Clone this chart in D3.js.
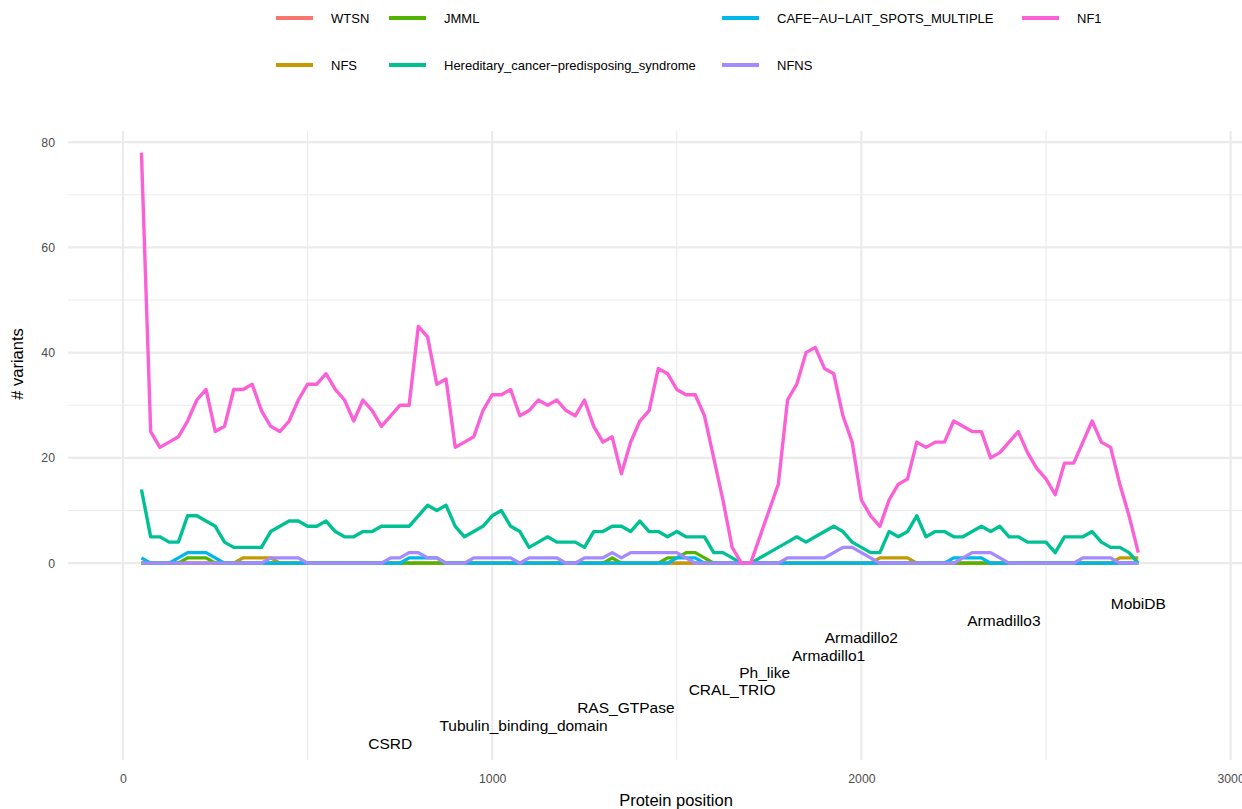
<!DOCTYPE html>
<html>
<head>
<meta charset="utf-8">
<script src="https://cdn.jsdelivr.net/npm/d3@7"></script>
<style>
  html, body { margin: 0; padding: 0; background: #fff; }
  svg { display: block; font-family: "Liberation Sans", Arial, sans-serif; }
</style>
</head>
<body>
<svg id="chart" width="1242" height="809"></svg>
<script>
// Variant counts per 25-residue window along the NF1 protein.
const positionStart = 50, positionStep = 25;

const seriesNames = ["WTSN", "NFS", "JMML", "Hereditary_cancer\u2212predisposing_syndrome",
                     "CAFE\u2212AU\u2212LAIT_SPOTS_MULTIPLE", "NFNS", "NF1"];
const seriesColors = ["#F8766D", "#C49A00", "#53B400", "#00C094", "#00B6EB", "#A58AFF", "#FB61D7"];

const wtsn = [
  0,0,0,0,0,0,0,0,0,0, 0,0,0,0,0,0,0,0,0,0, 0,0,0,0,0,0,0,0,0,0,
  0,0,0,0,0,0,0,0,0,0, 0,0,0,0,0,0,0,0,0,0, 0,0,0,0,0,0,0,0,0,0,
  0,0,0,0,0,0,0,0,0,0, 0,0,0,0,0,0,0,0,0,0, 0,0,0,0,0,0,0,0,0,0,
  0,0,0,0,0,0,0,0,0,0, 0,0,0,0,0,0,0,0,0];
const nfs = [
  0,0,0,0,0,0,0,0,0,0, 0,1,1,1,1,0,0,0,0,0, 0,0,0,0,0,0,0,0,0,0,
  0,0,0,0,0,0,0,0,0,0, 0,0,0,0,0,0,0,0,0,0, 0,0,0,0,0,0,0,0,0,0,
  0,0,0,0,0,0,0,0,0,0, 0,0,0,0,0,0,0,0,0,0, 1,1,1,1,0,0,0,0,0,0,
  0,0,0,0,0,0,0,0,0,0, 0,0,0,0,0,0,1,1,1];
const jmml = [
  0,0,0,0,0,1,1,1,0,0, 0,0,0,0,0,0,0,0,0,0, 0,0,0,0,0,0,0,0,0,0,
  0,0,0,0,0,0,0,0,0,0, 0,0,0,0,0,0,0,0,0,0, 0,1,0,0,0,0,0,1,1,2,
  2,1,0,0,0,0,0,0,0,0, 0,0,0,0,0,0,0,0,0,0, 0,0,0,0,0,0,0,0,0,0,
  0,0,0,0,0,0,0,0,0,0, 0,0,0,0,0,0,0,0,0];
const hereditary = [
  14,5,5,4,4,9,9,8,7,4, 3,3,3,3,6,7,8,8,7,7, 8,6,5,5,6,6,7,7,7,7,
  9,11,10,11,7,5,6,7,9,10, 7,6,3,4,5,4,4,4,3,6, 6,7,7,6,8,6,6,5,6,5,
  5,5,2,2,1,0,0,1,2,3, 4,5,4,5,6,7,6,4,3,2, 2,6,5,6,9,5,6,6,5,5,
  6,7,6,7,5,5,4,4,4,2, 5,5,5,6,4,3,3,2,0];
const cafe = [
  1,0,0,0,1,2,2,2,1,0, 0,0,0,0,0,0,0,0,0,0, 0,0,0,0,0,0,0,0,0,1,
  1,1,1,0,0,0,0,0,0,0, 0,0,0,0,0,0,0,0,0,0, 0,0,0,0,0,0,0,0,1,1,
  1,0,0,0,0,0,0,0,0,0, 0,0,0,0,0,0,0,0,0,0, 0,0,0,0,0,0,0,0,1,1,
  1,1,0,0,0,0,0,0,0,0, 0,0,0,0,0,0,0,0,0];
const nfns = [
  0,0,0,0,0,0,0,0,0,0, 0,0,0,0,1,1,1,1,0,0, 0,0,0,0,0,0,0,1,1,2,
  2,1,1,0,0,0,1,1,1,1, 1,0,1,1,1,1,0,0,1,1, 1,2,1,2,2,2,2,2,2,1,
  0,0,0,0,0,0,0,0,0,0, 1,1,1,1,1,2,3,3,2,1, 0,0,0,0,0,0,0,0,0,1,
  2,2,2,1,0,0,0,0,0,0, 0,0,1,1,1,1,0,0,0];
const nf1 = [
  78,25,22,23,24,27,31,33,25,26, 33,33,34,29,26,25,27,31,34,34,
  36,33,31,27,31,29,26,28,30,30, 45,43,34,35,22,23,24,29,32,32,
  33,28,29,31,30,31,29,28,31,26, 23,24,17,23,27,29,37,36,33,32,
  32,28,20,12,3,0,0,5,10,15, 31,34,40,41,37,36,28,23,12,9,
  7,12,15,16,23,22,23,23,27,26, 25,25,20,21,23,25,21,18,16,13,
  19,19,23,27,23,22,15,9,2];

// Protein domain annotations: label, centre position, vertical placement
const domainLabels = ["MobiDB", "Armadillo3", "Armadillo2", "Armadillo1", "Ph_like",
                      "CRAL_TRIO", "RAS_GTPase", "Tubulin_binding_domain", "CSRD"];
const domainPositions = [2750, 2386, 2000, 1911, 1738, 1650, 1362, 1085, 724];
const domainLevels = [-7.6, -10.9, -14.1, -17.5, -20.8, -24.1, -27.4, -30.8, -34.3];

const xTicks = [0, 1000, 2000, 3000];
const xMinor = [500, 1500, 2500];
const yTicks = [0, 20, 40, 60, 80];
const yMinor = [10, 30, 50, 70];

const seriesValues = [wtsn, nfs, jmml, hereditary, cafe, nfns, nf1];
const series = seriesNames.map((name, k) => ({
  name, color: seriesColors[k],
  points: seriesValues[k].map((v, i) => ({ pos: positionStart + i * positionStep, v }))
}));

const svg = d3.select("#chart");
const panel = { left: 68, right: 1242, top: 131, bottom: 760 };

const x = d3.scaleLinear().domain([-143.5, 3016]).range([70, 1236.5]);
const y = d3.scaleLinear().domain([-37.4, 82.3]).range([760, 130]);

const grid = svg.append("g");
grid.selectAll("line.ymin").data(yMinor).join("line")
  .attr("x1", panel.left).attr("x2", panel.right)
  .attr("y1", d => y(d)).attr("y2", d => y(d))
  .attr("stroke", "#EBEBEB").attr("stroke-width", 1.1);
grid.selectAll("line.xmin").data(xMinor).join("line")
  .attr("y1", panel.top).attr("y2", panel.bottom)
  .attr("x1", d => x(d)).attr("x2", d => x(d))
  .attr("stroke", "#EBEBEB").attr("stroke-width", 1.1);
grid.selectAll("line.ymaj").data(yTicks).join("line")
  .attr("x1", panel.left).attr("x2", panel.right)
  .attr("y1", d => y(d)).attr("y2", d => y(d))
  .attr("stroke", "#EBEBEB").attr("stroke-width", 2.2);
grid.selectAll("line.xmaj").data(xTicks).join("line")
  .attr("y1", panel.top).attr("y2", panel.bottom)
  .attr("x1", d => x(d)).attr("x2", d => x(d))
  .attr("stroke", "#EBEBEB").attr("stroke-width", 2.2);

// Axes: labels only, no axis lines or tick marks
const yAxis = svg.append("g").attr("transform", `translate(${panel.left - 4},0)`)
  .call(d3.axisLeft(y).tickValues(yTicks).tickFormat(d3.format("d")).tickSize(0).tickPadding(9));
const xAxis = svg.append("g").attr("transform", `translate(0,${panel.bottom + 6})`)
  .call(d3.axisBottom(x).tickValues(xTicks).tickFormat(d3.format("d")).tickSize(0).tickPadding(8));
[yAxis, xAxis].forEach(a => {
  a.select(".domain").remove();
  a.selectAll("text").attr("fill", "#4D4D4D").attr("font-size", 12.3)
    .attr("font-family", "'Liberation Sans', Arial, sans-serif");
});

svg.append("text").attr("x", 676).attr("y", 806).attr("text-anchor", "middle")
  .attr("font-size", 16.5).attr("fill", "#000").text("Protein position");
svg.append("text").attr("transform", "translate(23,364) rotate(-90)")
  .attr("text-anchor", "middle").attr("font-size", 16.5).attr("fill", "#000").text("# variants");

const line = d3.line().x(d => x(d.pos)).y(d => y(d.v));
svg.append("g").selectAll("path").data(series).join("path")
  .attr("d", d => line(d.points))
  .attr("fill", "none").attr("stroke", d => d.color)
  .attr("stroke-width", 3.4).attr("stroke-linejoin", "round").attr("stroke-linecap", "butt");

svg.append("g").selectAll("text").data(domainLabels).join("text")
  .attr("x", (d, i) => x(domainPositions[i]))
  .attr("y", (d, i) => y(domainLevels[i]))
  .attr("dy", "0.35em").attr("text-anchor", "middle")
  .attr("font-size", 15.5).attr("fill", "#000").text(d => d);

// Legend: two rows, filled column by column
const legendColX = [276, 389, 722, 1022];
const legendRowY = [18, 65];
const legend = svg.append("g").selectAll("g").data(series).join("g")
  .attr("transform", (d, i) => `translate(${legendColX[Math.floor(i / 2)]},${legendRowY[i % 2]})`);
legend.append("line").attr("x1", 0).attr("x2", 37).attr("y1", 0).attr("y2", 0)
  .attr("stroke", d => d.color).attr("stroke-width", 4);
legend.append("text").attr("x", 55).attr("dy", "0.35em")
  .attr("font-size", 13).attr("fill", "#000").text(d => d.name);
</script>
</body>
</html>
